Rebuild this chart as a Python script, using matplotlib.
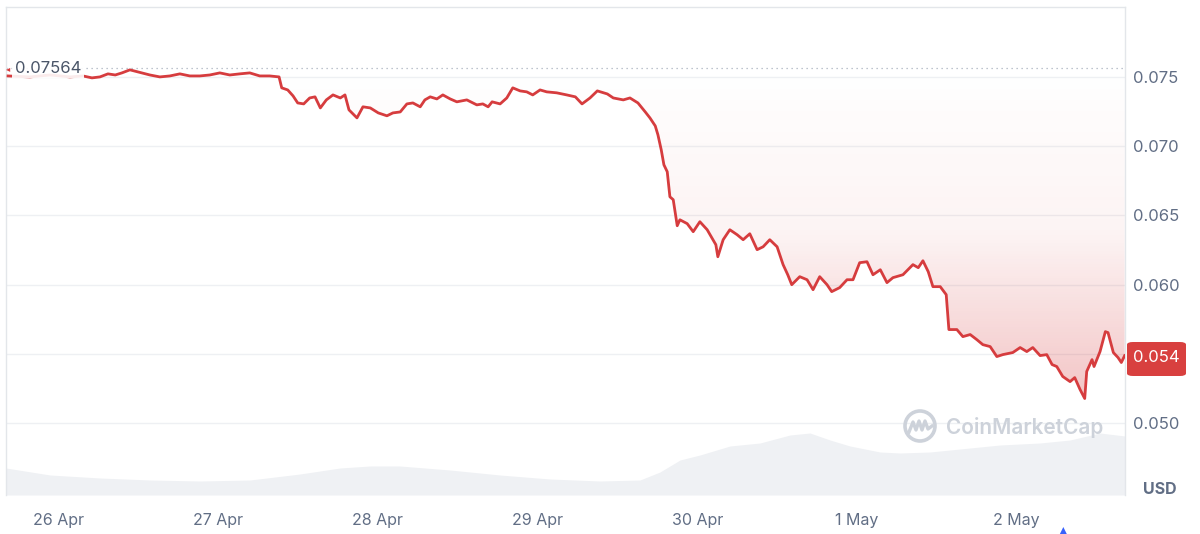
import numpy as np
import pandas as pd
import matplotlib
matplotlib.use("Agg")
import matplotlib.pyplot as plt
import matplotlib.dates as mdates
from matplotlib.colors import LinearSegmentedColormap
from matplotlib.patches import Ellipse, FancyBboxPatch

plt.rcParams["font.family"] = ["Inter", "DejaVu Sans"]

# hours since 26 Apr 00:00 and price in USD
price_hours = [
    -7.5, -4.2, -1.2, 1.8, 3.75, 5.1, 6.3, 7.5, 8.6, 9.6, 10.8, 12.0, 13.8, 15.3,
    16.8, 18.3, 19.8, 21.3, 22.8, 24.3, 25.8, 27.3, 28.8, 30.3, 31.8, 33.2, 33.6,
    34.5, 35.3, 36.0, 36.9, 37.8, 38.6, 39.4, 40.3, 41.3, 42.4, 43.1, 43.7, 44.9,
    45.8, 46.9, 48.1, 49.4, 50.3, 51.4, 52.4, 53.3, 54.4, 55.1, 55.9, 56.9, 57.8,
    58.9, 59.9, 61.4, 62.9, 63.8, 64.6, 65.2, 66.4, 67.4, 68.3, 69.4, 70.4, 71.3,
    72.4, 73.4, 74.9, 76.4, 77.7, 78.7, 79.9, 81.0, 82.5, 83.4, 84.9, 85.9, 87.1,
    88.2, 88.9, 89.7, 90.1, 90.6, 91.0, 91.5, 91.9, 92.4, 93.0, 93.4, 94.5, 95.4,
    96.4, 97.5, 98.2, 98.8, 99.1, 99.9, 100.9, 102.0, 102.9, 103.9, 105.0, 105.9,
    106.9, 108.0, 108.9, 109.6, 110.2, 111.4, 112.5, 113.4, 114.4, 115.5, 116.2,
    117.4, 118.5, 119.4, 120.4, 121.5, 122.4, 123.5, 124.5, 125.4, 126.9, 128.4,
    129.2, 129.9, 130.7, 131.4, 132.5, 133.4, 133.8, 135.0, 135.9, 137.0, 138.0,
    138.9, 140.0, 141.0, 141.9, 143.4, 144.5, 145.5, 146.4, 147.5, 148.5, 149.3,
    150.0, 150.9, 152.0, 152.7, 153.5, 154.2, 154.5, 155.3, 155.6, 156.5, 157.3,
    157.7, 158.5, 159.2, 159.7, 160.2,
]
price_usd = [
    0.07507, 0.07500, 0.07514, 0.07500, 0.07507, 0.07493, 0.07500, 0.07522, 0.07514,
    0.07529, 0.07551, 0.07536, 0.07514, 0.07500, 0.07507, 0.07522, 0.07507, 0.07507,
    0.07514, 0.07529, 0.07514, 0.07522, 0.07529, 0.07507, 0.07507, 0.07500, 0.07421,
    0.07406, 0.07363, 0.07312, 0.07305, 0.07348, 0.07356, 0.07276, 0.07334, 0.07370,
    0.07348, 0.07370, 0.07262, 0.07204, 0.07284, 0.07276, 0.07240, 0.07219, 0.07240,
    0.07247, 0.07305, 0.07312, 0.07284, 0.07334, 0.07356, 0.07341, 0.07370, 0.07341,
    0.07320, 0.07334, 0.07298, 0.07305, 0.07284, 0.07320, 0.07305, 0.07348, 0.07421,
    0.07399, 0.07392, 0.07370, 0.07406, 0.07392, 0.07385, 0.07370, 0.07356, 0.07305,
    0.07348, 0.07399, 0.07377, 0.07348, 0.07334, 0.07348, 0.07312, 0.07247, 0.07204,
    0.07146, 0.07082, 0.06973, 0.06865, 0.06815, 0.06634, 0.06613, 0.06425, 0.06468,
    0.06440, 0.06382, 0.06454, 0.06396, 0.06338, 0.06288, 0.06201, 0.06324, 0.06396,
    0.06360, 0.06324, 0.06367, 0.06252, 0.06273, 0.06324, 0.06273, 0.06144, 0.06071,
    0.05999, 0.06057, 0.06035, 0.05963, 0.06057, 0.05999, 0.05949, 0.05978, 0.06035,
    0.06035, 0.06158, 0.06165, 0.06071, 0.06107, 0.06014, 0.06050, 0.06071, 0.06144,
    0.06122, 0.06172, 0.06093, 0.05985, 0.05985, 0.05927, 0.05675, 0.05675, 0.05624,
    0.05639, 0.05602, 0.05566, 0.05552, 0.05480, 0.05494, 0.05509, 0.05545, 0.05516,
    0.05545, 0.05487, 0.05494, 0.05422, 0.05408, 0.05336, 0.05299, 0.05328, 0.05242,
    0.05177, 0.05372, 0.05458, 0.05408, 0.05516, 0.05660, 0.05653, 0.05509, 0.05473,
    0.05437, 0.05487,
]

volume_hours = [
    -7.81, -1.2, 6.31, 13.82, 21.33, 28.84, 36.35, 42.35, 46.86, 51.36, 58.87,
    66.38, 73.89, 81.4, 87.41, 90.41, 93.42, 96.42, 100.93, 105.43, 109.94,
    112.94, 115.95, 118.95, 123.46, 126.46, 130.97, 135.47, 141.48, 147.49,
    151.99, 156.5, 160.25,
]
volume_musd = [
    13.5, 10, 8.5, 7.5, 7, 7.5, 10.5, 13.5, 14.5, 14.5, 12.5, 10, 8, 7, 7.5,
    11.5, 17.5, 20, 24.5, 26, 30, 31, 27.5, 24.5, 21.5, 21, 21.5, 23, 25, 26,
    27.5, 31, 29.5,
]

open_price = 0.07564
last_label = "0.054"
price_ticks = [0.050, 0.055, 0.060, 0.065, 0.070, 0.075]

RED = "#d63c3e"
GRAY = "#616e85"

start = pd.Timestamp("2023-04-26")
pt = mdates.date2num(start + pd.to_timedelta(price_hours, unit="h"))
vt = mdates.date2num(start + pd.to_timedelta(volume_hours, unit="h"))
pv = np.array(price_usd)
x0 = mdates.date2num(start + pd.Timedelta(hours=-7.81))
x1 = mdates.date2num(start + pd.Timedelta(hours=160.25))

fig = plt.figure(figsize=(12, 5.34), dpi=100)
pos = [6 / 1200, 39 / 534, 1119 / 1200, 488 / 534]

# volume underneath
axv = fig.add_axes(pos, zorder=0)
axv.fill_between(vt, volume_musd, 0, color="#eff1f4", lw=0)
axv.set_xlim(x0, x1)
axv.set_ylim(0, 244)
axv.axis("off")

ax = fig.add_axes(pos, zorder=1)
ax.patch.set_alpha(0)
ax.set_xlim(x0, x1)
ax.set_ylim(0.04480, 0.08005)

for t in price_ticks:
    ax.axhline(t, color="#eef0f3", lw=1, zorder=0)

# gradient fill between open line and price
poly = ax.fill_between(pt, pv, open_price, where=pv <= open_price,
                       interpolate=True, color="none", lw=0)
cmap = LinearSegmentedColormap.from_list(
    "fade", [(0.84, 0.24, 0.25, 0.0), (0.84, 0.24, 0.25, 0.06),
             (0.84, 0.24, 0.25, 0.30)])
grad = np.linspace(1, 0, 256).reshape(-1, 1)
img = ax.imshow(grad, cmap=cmap, aspect="auto", origin="lower",
                extent=[x0, x1, 0.0517, open_price], zorder=1)
img.set_clip_path(poly.get_paths()[0], transform=ax.transData)
ax.set_ylim(0.04480, 0.08005)

ax.axhline(open_price, color="#a9b1bf", lw=0.9, ls=(0, (1, 3)), zorder=2)
ax.plot(pt, pv, color=RED, lw=2.0, zorder=3, solid_joinstyle="round")

ax.yaxis.tick_right()
ax.set_yticks(price_ticks)
ax.set_yticklabels([f"{t:.3f}" for t in price_ticks])
ax.tick_params(axis="y", length=0, pad=6, labelsize=12, labelcolor=GRAY)

ax.xaxis.set_major_locator(mdates.DayLocator())
ax.xaxis.set_major_formatter(mdates.DateFormatter("%-d %b"))
ax.tick_params(axis="x", length=0, pad=13, labelsize=11.5, labelcolor=GRAY)

ax.spines["bottom"].set_visible(False)
for s in ["left", "top", "right"]:
    ax.spines[s].set_color("#e3e6ea")
    ax.spines[s].set_linewidth(1)

# open price label
ax.text(0.008, open_price, f"{open_price:.5f}", transform=ax.get_yaxis_transform(),
        fontsize=12, color="#4a5568", va="center", ha="left", zorder=5,
        bbox=dict(boxstyle="square,pad=0.15", fc="white", ec="none", alpha=0.9))
fig.text(8 / 1200, 1 - 69 / 534, "\u25c2", color=RED, fontsize=6,
         va="center", ha="center", family="DejaVu Sans")

# last price badge
box = FancyBboxPatch((1127 / 1200, 1 - 376 / 534), 59 / 1200, 34 / 534,
                     boxstyle="round,pad=0,rounding_size=0.005",
                     transform=fig.transFigure, fc="#d8403f", ec="none")
fig.patches.append(box)
fig.text(1156 / 1200, 1 - 358 / 534, last_label, color="white", fontsize=12,
         ha="center", va="center")

fig.text(1160 / 1200, 1 - 490 / 534, "USD", color=GRAY, fontsize=11.5,
         fontweight="bold", ha="center", va="center")

# watermark
wm = "#cdd2da"
fig.patches.append(Ellipse((920 / 1200, 1 - 426 / 534), 30 / 1200, 30 / 534,
                           transform=fig.transFigure, fill=False, ec=wm, lw=2.6))
wx = np.array([909, 913, 916, 919, 922, 925, 928, 932]) / 1200
wy = 1 - np.array([432, 422, 430, 421, 430, 421, 429, 426]) / 534
fig.lines.append(plt.Line2D(wx, wy, transform=fig.transFigure, color=wm, lw=2.4))
fig.text(946 / 1200, 1 - 428 / 534, "CoinMarketCap", color=wm, fontsize=15,
         fontweight="semibold", ha="left", va="center")

# blue marker at the bottom
fig.text(1063 / 1200, 1 - 531 / 534, "\u25b2", color="#3861fb", fontsize=10,
         ha="center", va="center", family="DejaVu Sans")

fig.savefig("out.png", dpi=100)
